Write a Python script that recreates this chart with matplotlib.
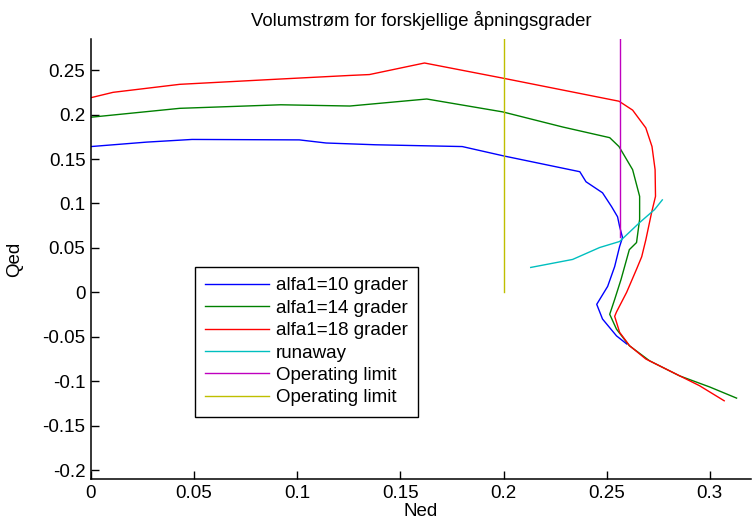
import matplotlib.pyplot as plt

# Ned / Qed for three guide vane openings
ned_10 = [0.0, 0.027, 0.049, 0.101, 0.114, 0.138, 0.180, 0.200, 0.237, 0.240,
          0.248, 0.2524, 0.2553, 0.2563, 0.2577, 0.2563, 0.2539, 0.2505, 0.2452,
          0.248, 0.2548, 0.2597]
qed_10 = [0.164, 0.169, 0.172, 0.1715, 0.168, 0.166, 0.164, 0.1535, 0.1357, 0.1244,
          0.112, 0.0964, 0.085, 0.074, 0.0617, 0.0516, 0.029, 0.0067, -0.0135,
          -0.030, -0.049, -0.058]

ned_14 = [0.0, 0.043, 0.092, 0.1255, 0.1628, 0.1996, 0.2287, 0.2515, 0.256, 0.2626,
          0.266, 0.266, 0.2645, 0.261, 0.257, 0.2539, 0.2515, 0.2548, 0.261,
          0.2708, 0.2854, 0.300, 0.313]
qed_14 = [0.197, 0.207, 0.211, 0.2096, 0.2175, 0.203, 0.186, 0.174, 0.164, 0.138,
          0.108, 0.082, 0.056, 0.048, 0.0146, -0.008, -0.0247, -0.0415, -0.060,
          -0.077, -0.094, -0.1065, -0.119]

ned_18 = [0.0, 0.0107, 0.043, 0.092, 0.1255, 0.135, 0.1617, 0.1996, 0.256, 0.2626,
          0.269, 0.272, 0.2735, 0.2737, 0.2718, 0.269, 0.267, 0.2645, 0.2597,
          0.2548, 0.2539, 0.2563, 0.2611, 0.269, 0.282, 0.295, 0.307]
qed_18 = [0.219, 0.225, 0.234, 0.240, 0.244, 0.245, 0.258, 0.241, 0.215, 0.205,
          0.185, 0.164, 0.138, 0.108, 0.0897, 0.059, 0.040, 0.026, 0.0,
          -0.022, -0.027, -0.045, -0.060, -0.075, -0.090, -0.105, -0.122]

ned_runaway = [0.2132, 0.2335, 0.2466, 0.2563, 0.266, 0.2732, 0.277]
qed_runaway = [0.028, 0.037, 0.0504, 0.0572, 0.0785, 0.093, 0.104]

limit_ned = [0.2563, 0.2]
limit_qed = [(0.0617, 0.30), (0.0, 0.30)]

labels = ['alfa1=10 grader', 'alfa1=14 grader', 'alfa1=18 grader', 'runaway',
          'Operating limit', 'Operating limit']

plt.rcParams['font.family'] = ['Liberation Sans', 'DejaVu Sans']
plt.rcParams['font.size'] = 13.5

fig = plt.figure(figsize=(7.52, 5.21), dpi=100)
ax = fig.add_axes([91 / 752, 1 - 479 / 521, 660 / 752, 440 / 521])

lw = 1.0
ax.plot(ned_10, qed_10, color=(0, 0, 1), lw=lw, label=labels[0])
ax.plot(ned_14, qed_14, color=(0, 0.5, 0), lw=lw, label=labels[1])
ax.plot(ned_18, qed_18, color=(1, 0, 0), lw=lw, label=labels[2])
ax.plot(ned_runaway, qed_runaway, color=(0, 0.75, 0.75), lw=lw, label=labels[3])
ax.plot([limit_ned[0]] * 2, limit_qed[0], color=(0.75, 0, 0.75), lw=lw, label=labels[4])
ax.plot([limit_ned[1]] * 2, limit_qed[1], color=(0.75, 0.75, 0), lw=lw, label=labels[5])

ax.set_xlim(0, 0.32)
ax.set_ylim(-0.21, 0.285)
ax.set_xticks([0, 0.05, 0.1, 0.15, 0.2, 0.25, 0.3])
ax.set_xticklabels(['0', '0.05', '0.1', '0.15', '0.2', '0.25', '0.3'])
ax.set_yticks([-0.2, -0.15, -0.1, -0.05, 0, 0.05, 0.1, 0.15, 0.2, 0.25])
ax.set_yticklabels(['-0.2', '-0.15', '-0.1', '-0.05', '0', '0.05', '0.1', '0.15', '0.2', '0.25'])

for side in ['top', 'right']:
    ax.spines[side].set_visible(False)
for side in ['left', 'bottom']:
    ax.spines[side].set_linewidth(1.1)
ax.tick_params(direction='in', length=5.5, width=1.0, pad=4)

ax.set_title('Volumstrøm for forskjellige åpningsgrader', fontsize=13.3, pad=9)
ax.set_xlabel('Ned')
ax.set_ylabel('Qed')
ax.xaxis.set_label_coords(0.5, -0.054)
ax.yaxis.set_label_coords(-0.103, 0.5)

leg = ax.legend(loc='upper left', bbox_to_anchor=(195 / 752, 1 - 267 / 521),
                bbox_transform=fig.transFigure, borderaxespad=0, fancybox=False,
                framealpha=1, edgecolor='black', handlelength=3.4,
                handletextpad=0.37, borderpad=0.55, labelspacing=0.28)
leg.get_frame().set_linewidth(1.0)

fig.savefig('out.png', dpi=100)
